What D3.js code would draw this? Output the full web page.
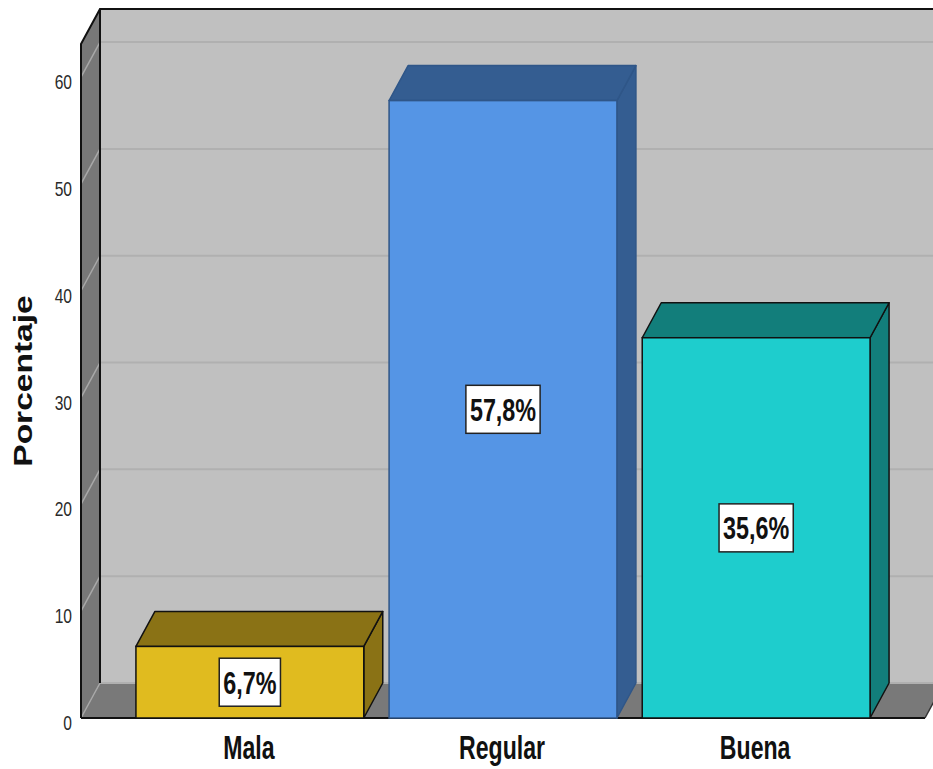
<!DOCTYPE html>
<html>
<head>
<meta charset="utf-8">
<script src="https://cdn.jsdelivr.net/npm/d3@7"></script>
<style>
  html, body { margin: 0; padding: 0; background: #ffffff; }
  svg { display: block; }
  text { font-family: "Liberation Sans", Arial, sans-serif; }
</style>
</head>
<body>
<script>
// Percentage of respondents per rating category
const categories = ["Mala", "Regular", "Buena"];
const percentages = [6.7, 57.8, 35.6];
const yTicks = [0, 10, 20, 30, 40, 50, 60];
const yMax = 63.1;

// Palette: front face, top/side face, outline
const frontColors = ["#e0bb1f", "#5595e5", "#1ecdcd"];
const shadeColors = ["#8a7215", "#345d91", "#127e7b"];
const edgeColors  = ["#111111", "#2f5688", "#111111"];

const W = 933, H = 769;
const dx = 19, dy = 35;              // oblique depth of the 3D box
const plotLeft = 81, plotRight = 925; // front plane horizontal extent
const plotBottom = 718, plotTop = 44; // front plane vertical extent

const fmt = d3.formatLocale({ decimal: ",", thousands: ".", grouping: [3], currency: ["", ""] }).format(".1f");

const svg = d3.select("body").append("svg")
  .attr("width", W).attr("height", H);

const y = d3.scaleLinear().domain([0, yMax]).range([plotBottom, plotTop]);
const x = d3.scaleBand().domain(categories).range([plotLeft, plotRight])
  .paddingInner(0.1).paddingOuter(0.217);

// Back wall
svg.append("rect")
  .attr("x", plotLeft + dx).attr("y", plotTop - dy)
  .attr("width", W + 40 - (plotLeft + dx)).attr("height", plotBottom - plotTop)
  .attr("fill", "#c0c0c0");

// Left side wall
svg.append("polygon")
  .attr("points", [[plotLeft, plotTop], [plotLeft + dx, plotTop - dy], [plotLeft + dx, plotBottom - dy], [plotLeft, plotBottom]].join(" "))
  .attr("fill", "#787878");

// Floor
svg.append("polygon")
  .attr("points", [[plotLeft, plotBottom], [plotLeft + dx, plotBottom - dy], [plotRight + dx, plotBottom - dy], [plotRight, plotBottom]].join(" "))
  .attr("fill", "#797979");

// Gridlines on back wall and side wall
const grid = svg.append("g");
grid.selectAll("line.back").data(yTicks).join("line")
  .attr("class", "back")
  .attr("x1", plotLeft + dx).attr("x2", W + 40)
  .attr("y1", d => y(d) - dy).attr("y2", d => y(d) - dy)
  .attr("stroke", "#b0b0b0").attr("stroke-width", 2);
grid.selectAll("line.side").data(yTicks).join("line")
  .attr("class", "side")
  .attr("x1", plotLeft).attr("x2", plotLeft + dx)
  .attr("y1", d => y(d)).attr("y2", d => y(d) - dy)
  .attr("stroke", "#a8a8a8").attr("stroke-width", 1.5);

// Frame outlines
const frame = svg.append("g").attr("stroke", "#111").attr("stroke-width", 2).attr("fill", "none");
frame.append("polyline")
  .attr("points", [[plotLeft, plotBottom], [plotLeft, plotTop], [plotLeft + dx, plotTop - dy], [W + 40, plotTop - dy]].join(" "));
frame.append("line")
  .attr("x1", plotLeft + dx).attr("x2", plotLeft + dx)
  .attr("y1", plotTop - dy).attr("y2", plotBottom - dy);
frame.append("line")
  .attr("x1", plotLeft).attr("x2", plotRight)
  .attr("y1", plotBottom).attr("y2", plotBottom);
frame.append("line")
  .attr("x1", plotRight).attr("x2", plotRight + dx)
  .attr("y1", plotBottom).attr("y2", plotBottom - dy)
  .attr("stroke", "#333").attr("stroke-width", 1.5);

// Y tick labels
svg.append("g").selectAll("text").data(yTicks).join("text")
  .attr("transform", d => `translate(72,${y(d) + 12}) scale(0.78,1)`)
  .attr("text-anchor", "end")
  .attr("font-size", 20)
  .attr("fill", "#2a2a2a")
  .text(d => d);

// Y axis title
svg.append("text")
  .attr("transform", `translate(32,381) rotate(-90) scale(1.29,1)`)
  .attr("text-anchor", "middle")
  .attr("font-size", 26)
  .attr("font-weight", "bold")
  .attr("fill", "#111")
  .text("Porcentaje");

// 3D bars
const bw = x.bandwidth();
const bars = svg.append("g").selectAll("g").data(categories).join("g");
bars.each(function (c, i) {
  const g = d3.select(this);
  const x0 = x(c), x1 = x0 + bw;
  const yt = y(percentages[i]), yb = y(0);
  g.append("polygon")
    .attr("points", [[x1, yt], [x1 + dx, yt - dy], [x1 + dx, yb - dy], [x1, yb]].join(" "))
    .attr("fill", shadeColors[i]).attr("stroke", edgeColors[i]).attr("stroke-width", 1.5)
    .attr("stroke-linejoin", "round");
  g.append("polygon")
    .attr("points", [[x0, yt], [x0 + dx, yt - dy], [x1 + dx, yt - dy], [x1, yt]].join(" "))
    .attr("fill", shadeColors[i]).attr("stroke", edgeColors[i]).attr("stroke-width", 1.5)
    .attr("stroke-linejoin", "round");
  g.append("rect")
    .attr("x", x0).attr("y", yt).attr("width", bw).attr("height", yb - yt)
    .attr("fill", frontColors[i]).attr("stroke", edgeColors[i]).attr("stroke-width", 1.5);
});

// Value labels in boxes
bars.each(function (c, i) {
  const g = d3.select(this);
  const cx = x(c) + bw / 2;
  const cy = (y(percentages[i]) + y(0)) / 2;
  const fs = 32, sx = 0.73;
  const box = g.append("rect");
  const t = g.append("text")
    .attr("transform", `translate(${cx},${cy + fs * 0.358}) scale(${sx},1)`)
    .attr("text-anchor", "middle")
    .attr("font-size", fs).attr("font-weight", "bold").attr("fill", "#111")
    .text(fmt(percentages[i]) + "%");
  const w = t.node().getComputedTextLength() * sx + 8;
  const h = 48;
  box.attr("x", cx - w / 2).attr("y", cy - h / 2).attr("width", w).attr("height", h)
    .attr("fill", "#ffffff").attr("stroke", "#222").attr("stroke-width", 1.5);
});

// Category labels
svg.append("g").selectAll("text").data(categories).join("text")
  .attr("transform", d => `translate(${x(d) + bw / 2 - 1},759) scale(0.7,1)`)
  .attr("text-anchor", "middle")
  .attr("font-size", 33).attr("font-weight", "bold").attr("fill", "#111")
  .text(d => d);
</script>
</body>
</html>
